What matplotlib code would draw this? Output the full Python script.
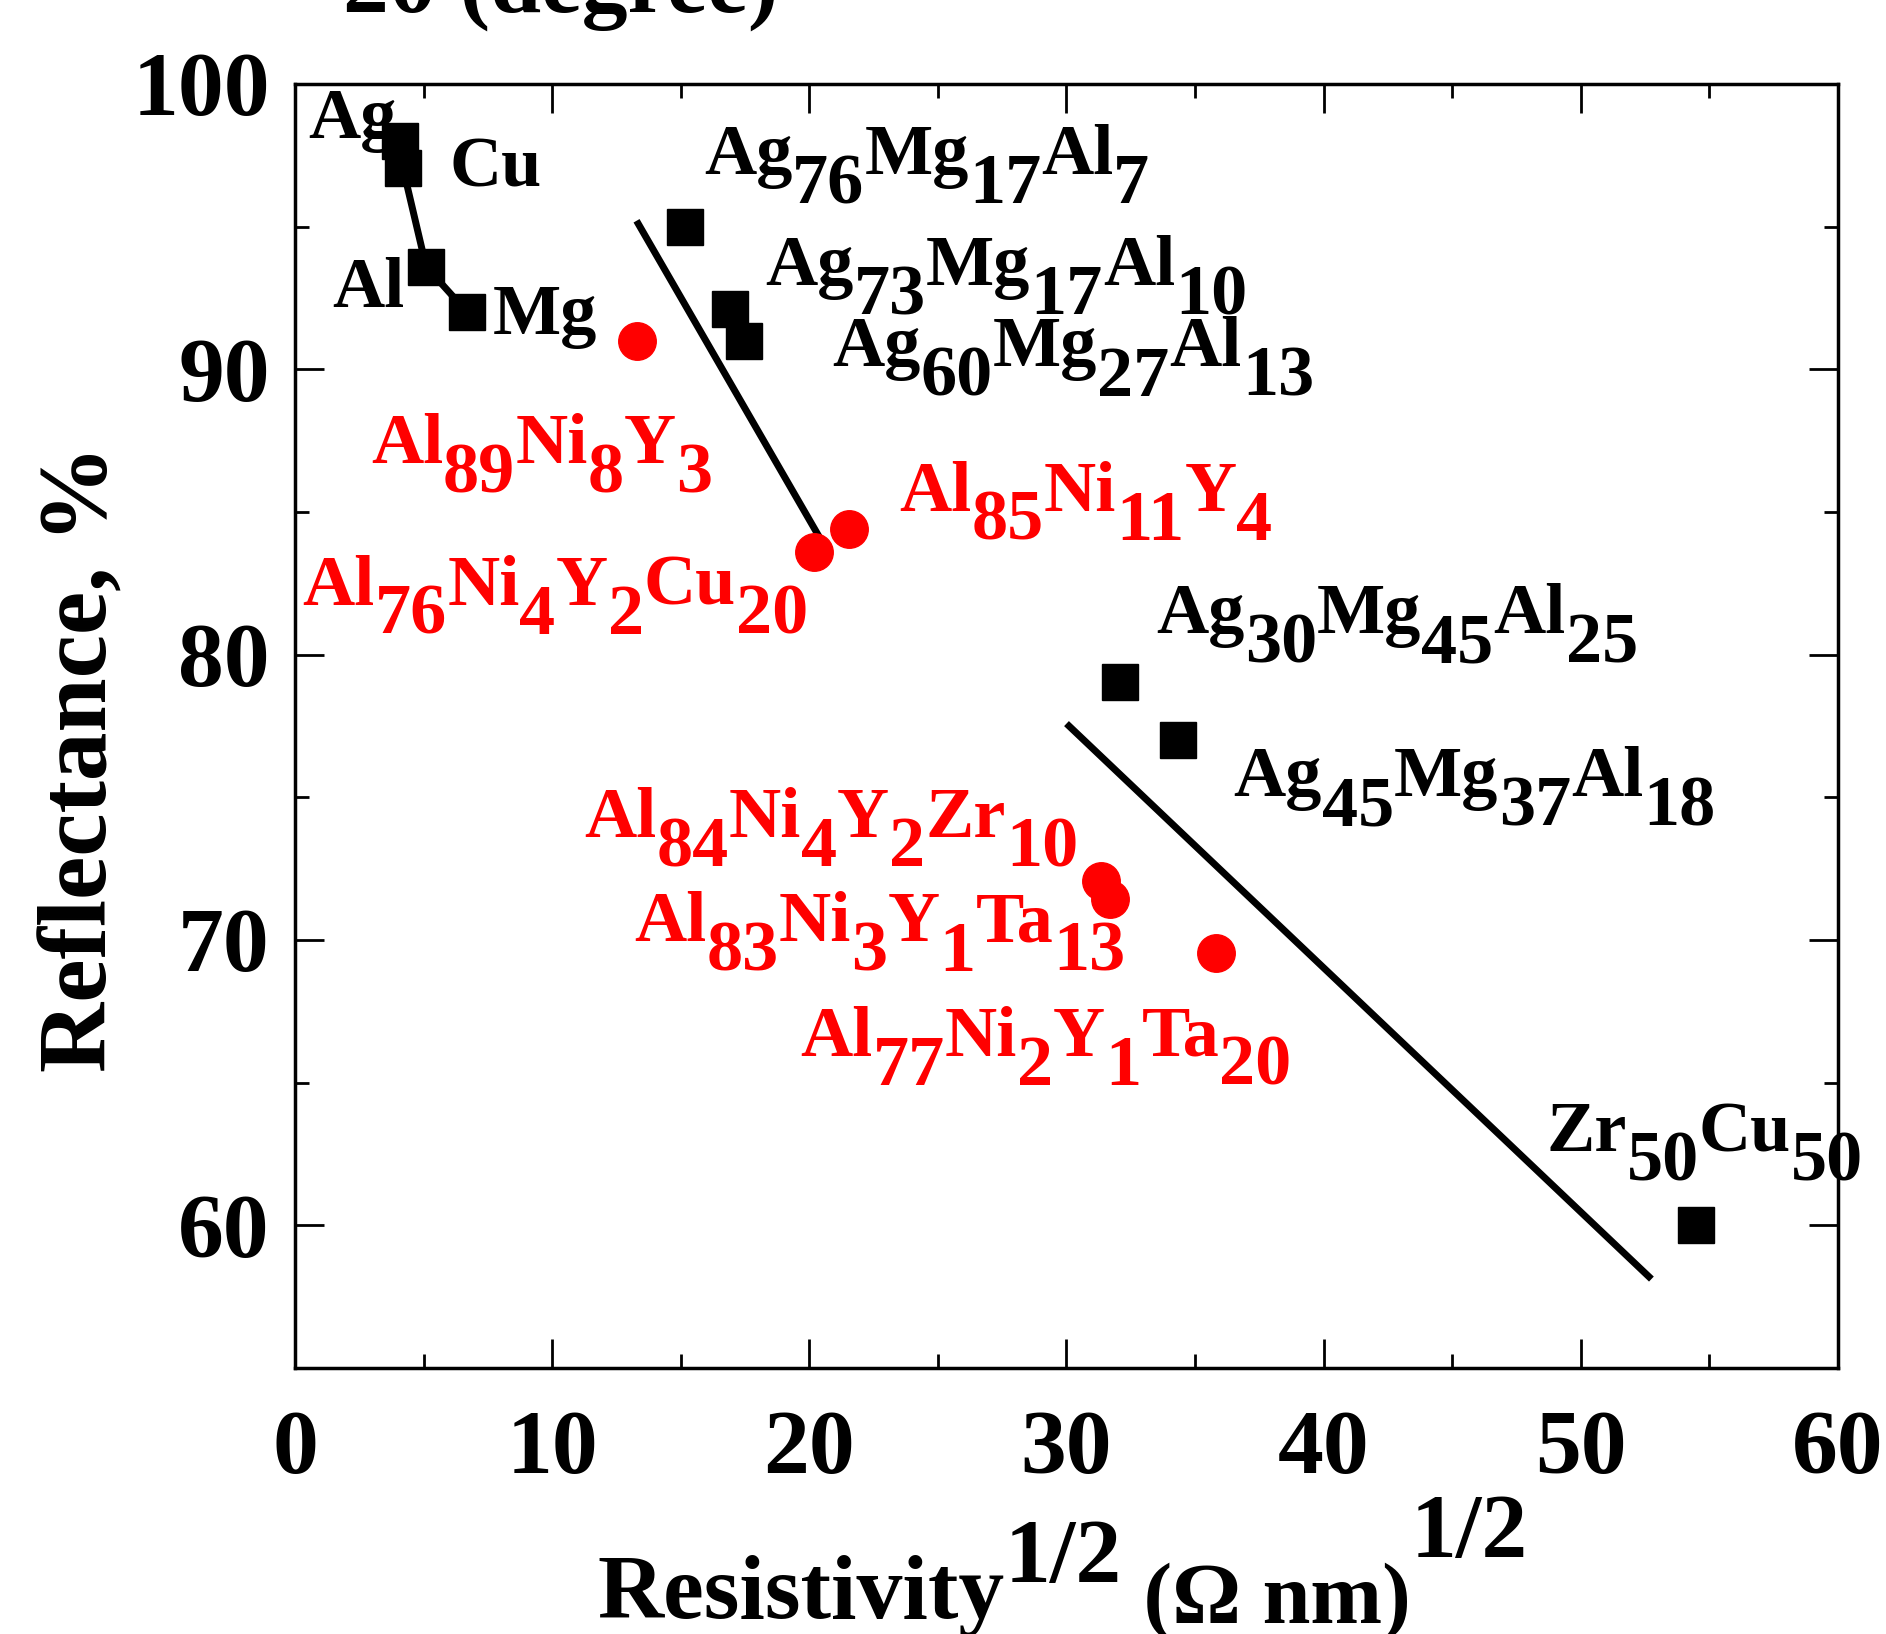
import re
import matplotlib
matplotlib.use('Agg')
import matplotlib.pyplot as plt

plt.rcParams['font.family'] = ['Liberation Serif', 'DejaVu Serif']
plt.rcParams['font.weight'] = 'bold'

# black squares: pure metals and Ag-Mg-Al alloys
metal_names = ['Ag', 'Cu', 'Al', 'Mg']
metal_x = [4.1, 4.2, 5.1, 6.7]
metal_y = [98.0, 97.05, 93.6, 92.0]

alloy_names = ['Ag76Mg17Al7', 'Ag73Mg17Al10', 'Ag60Mg27Al13',
               'Ag30Mg45Al25', 'Ag45Mg37Al18', 'Zr50Cu50']
alloy_x = [15.15, 16.9, 17.45, 32.1, 34.35, 54.5]
alloy_y = [95.0, 92.1, 91.0, 79.05, 77.0, 60.0]

# red circles: Al-based glasses
al_names = ['Al89Ni8Y3', 'Al76Ni4Y2Cu20', 'Al85Ni11Y4',
            'Al84Ni4Y2Zr10', 'Al83Ni3Y1Ta13', 'Al77Ni2Y1Ta20']
al_x = [13.3, 20.2, 21.55, 31.35, 31.7, 35.8]
al_y = [91.0, 83.6, 84.4, 72.05, 71.45, 69.55]

# guide lines
guide1_x = [13.35, 20.5]
guide1_y = [95.1, 83.95]
guide2_x = [30.1, 52.65]
guide2_y = [77.5, 58.2]

# label anchors (left, baseline) in data units
label_pos = {
    'Ag': (0.5, 98.1), 'Cu': (6.0, 96.4), 'Al': (1.45, 92.2), 'Mg': (7.7, 91.25),
    'Ag76Mg17Al7': (15.9, 96.85), 'Ag73Mg17Al10': (18.3, 92.95),
    'Ag60Mg27Al13': (20.9, 90.1), 'Ag30Mg45Al25': (33.5, 80.75),
    'Ag45Mg37Al18': (36.5, 75.05), 'Zr50Cu50': (48.65, 62.6),
    'Al89Ni8Y3': (2.95, 86.7), 'Al76Ni4Y2Cu20': (0.3, 81.75),
    'Al85Ni11Y4': (23.5, 85.05), 'Al84Ni4Y2Zr10': (11.25, 73.6),
    'Al83Ni3Y1Ta13': (13.2, 69.95), 'Al77Ni2Y1Ta20': (19.65, 65.95),
}


def chain_text(first, pieces, color):
    # pieces: list of (text, baseline offset in points, fontsize)
    prev, prev_off = first, 0
    for txt, off, fs in pieces:
        prev = plt.gca().annotate(txt, xy=(1, 0), xycoords=prev,
                                  xytext=(0, off - prev_off), textcoords='offset points',
                                  ha='left', va='bottom', fontsize=fs, color=color,
                                  fontweight='bold')
        prev_off = off
    return prev


def formula(ax, x, y, s, color, size=52, sub=-21):
    parts = re.findall(r'[A-Z][a-z]*|\d+', s)
    t = ax.text(x, y, parts[0], fontsize=size, color=color, fontweight='bold',
                ha='left', va='baseline')
    pieces = [(p, sub if p.isdigit() else 0, size) for p in parts[1:]]
    chain_text(t, pieces, color)


fig = plt.figure(figsize=(18.86, 16.34), dpi=100)
ax = fig.add_axes([0.1564, 0.1628, 0.8181, 0.7858])

ax.plot(metal_x, metal_y, 's-', color='black', ms=26, lw=5, zorder=3)
ax.plot(alloy_x, alloy_y, 's', color='black', ms=26, zorder=3)
ax.plot(al_x, al_y, 'o', color='#FF0000', ms=27, zorder=3)
ax.plot(guide1_x, guide1_y, '-', color='black', lw=5, zorder=2)
ax.plot(guide2_x, guide2_y, '-', color='black', lw=5, zorder=2)

for name in metal_names + alloy_names:
    formula(ax, *label_pos[name], name, 'black')
for name in al_names:
    formula(ax, *label_pos[name], name, '#FF0000')

ax.set_xlim(0, 60)
ax.set_ylim(55, 100)
ax.set_xticks(range(0, 61, 10))
ax.set_xticks(range(5, 60, 10), minor=True)
ax.set_yticks(range(60, 101, 10))
ax.set_yticks(range(65, 100, 10), minor=True)
ax.tick_params(which='both', direction='in', top=True, right=True, width=2)
ax.tick_params(which='major', length=21, labelsize=66)
ax.tick_params(which='minor', length=10)
ax.tick_params(axis='x', which='major', pad=30)
ax.tick_params(axis='y', which='major', pad=18)
for lab in ax.get_xticklabels() + ax.get_yticklabels():
    lab.set_fontweight('bold')
for sp in ax.spines.values():
    sp.set_linewidth(2.5)

# y label
fig.text(0.044, 0.536, 'Reflectance, %', rotation=90, fontsize=70,
         fontweight='bold', ha='center', va='center')

# x label with raised exponents
plt.sca(ax)
xl = fig.text(0.317, 0.0098, 'Resistivity', fontsize=66, fontweight='bold',
              ha='left', va='baseline')
chain_text(xl, [('1/2', 26, 66), (' (\u03a9 nm)', -3, 62), ('1/2', 44, 66)], 'black')

# cut-off title from the panel above
fig.text(0.182, 0.9927, '2\u03b8 (degree)', fontsize=66, fontweight='bold',
         ha='left', va='baseline')

fig.savefig('out.png', dpi=100)
